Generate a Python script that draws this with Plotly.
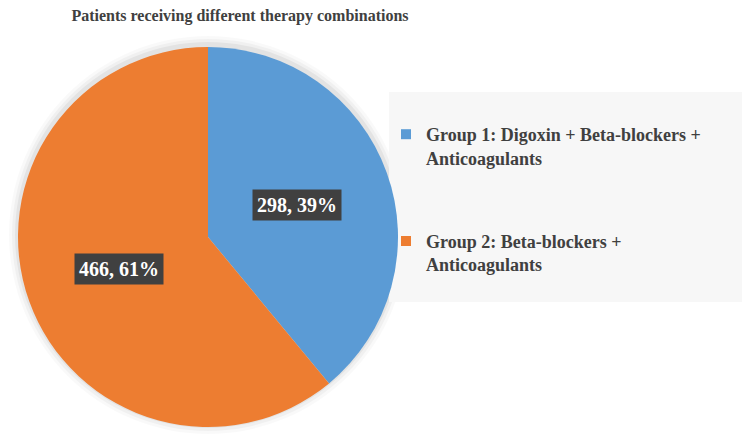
import math
import plotly.graph_objects as go

title = "Patients receiving different therapy combinations"
labels = ["Group 1: Digoxin + Beta-blockers +<br>Anticoagulants",
          "Group 2: Beta-blockers +<br>Anticoagulants"]
values = [298, 466]
colors = ["#5b9bd5", "#ed7d31"]

W, H = 742, 446
cx_px, cy_px, r_px = 208, 237, 190

fig = go.Figure()

# soft shadow around the pie
for k, a in [(9, 0.025), (6, 0.035), (3, 0.05)]:
    fig.add_shape(type="circle", xref="paper", yref="paper", layer="below",
                  x0=(cx_px - r_px - k) / W, x1=(cx_px + r_px + k) / W,
                  y0=(H - cy_px - r_px - k + 2) / H, y1=(H - cy_px + r_px + k + 2) / H,
                  fillcolor=f"rgba(0,0,0,{a})", line=dict(width=0))

fig.add_trace(go.Pie(
    labels=labels, values=values, sort=False, direction="clockwise", rotation=0,
    marker=dict(colors=colors, line=dict(width=0)), textinfo="none", hoverinfo="label+value+percent",
    showlegend=False,
    domain=dict(x=[(cx_px - r_px) / W, (cx_px + r_px) / W],
                y=[(H - cy_px - r_px) / H, (H - cy_px + r_px) / H]),
))

# legend entries
for lab, col in zip(labels, colors):
    fig.add_trace(go.Scatter(x=[None], y=[None], mode="markers", name=f"<b>{lab}</b>", legendgroup=lab,
                             marker=dict(symbol="square", size=10, color=col)))

# data labels
total = sum(values)
cum = 0
for v in values:
    mid = (cum + v / 2) / total * 2 * math.pi
    cum += v
    x = (cx_px + 0.5 * r_px * math.sin(mid)) / W
    y = (H - cy_px + 0.5 * r_px * math.cos(mid)) / H
    fig.add_annotation(x=x, y=y, xref="paper", yref="paper", showarrow=False,
                       xanchor="center", yanchor="middle",
                       text=f"<b>{v}, {round(v / total * 100)}%</b>",
                       font=dict(family="Liberation Serif", size=20, color="white"),
                       bgcolor="#404040", borderpad=4)

fig.add_shape(type="rect", xref="paper", yref="paper", x0=389 / W, x1=1, y0=1 - 302 / H, y1=1 - 92 / H,
              fillcolor="#f7f7f7", line=dict(width=0), layer="below")

fig.update_layout(
    width=W, height=H, margin=dict(l=0, r=0, t=0, b=0),
    paper_bgcolor="white", plot_bgcolor="rgba(0,0,0,0)",
    xaxis=dict(visible=False), yaxis=dict(visible=False),
    title=dict(text=f"<b>{title}</b>", x=240 / W, xanchor="center", y=1 - 15 / H, yanchor="middle",
               yref="container", font=dict(family="Liberation Serif", size=16, color="#404040")),
    legend=dict(x=386 / W, y=1 - 116 / H, xanchor="left", yanchor="top", valign="top",
                bgcolor="rgba(0,0,0,0)", tracegroupgap=57,
                font=dict(family="Liberation Serif", size=18, color="#404040")),
)

fig.write_html("out.html", config={"displayModeBar": False},
               post_script="document.body.style.margin='0';")
